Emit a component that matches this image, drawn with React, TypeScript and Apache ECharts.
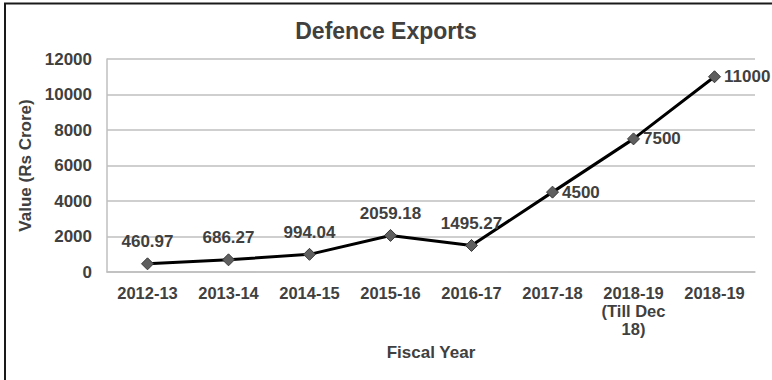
import React, { useEffect, useRef } from "react";
import * as echarts from "echarts";

const categories = [
  "2012-13",
  "2013-14",
  "2014-15",
  "2015-16",
  "2016-17",
  "2017-18",
  "2018-19\n(Till Dec\n18)",
  "2018-19",
];
const values = [460.97, 686.27, 994.04, 2059.18, 1495.27, 4500, 7500, 11000];
const labelPositions = ["top", "top", "top", "top", "top", "right", "right", "right"];
const titleText = "Defence Exports";
const xName = "Fiscal Year";
const yName = "Value (Rs Crore)";

const FONT = "'Liberation Sans', Arial, sans-serif";
const TEXT = "#404040";

export default function App() {
  const ref = useRef<HTMLDivElement>(null);
  useEffect(() => {
    if (!ref.current) return;
    const chart = echarts.init(ref.current, null, { renderer: "svg" });
    chart.setOption({
      animation: false,
      backgroundColor: "#ffffff",
      textStyle: { fontFamily: FONT },
      title: {
        text: titleText,
        left: "center",
        top: 14,
        textStyle: { fontFamily: FONT, fontSize: 23, fontWeight: "bold", color: TEXT },
      },
      graphic: [
        {
          type: "rect",
          shape: { x: 5, y: 3.5, width: 900, height: 500 },
          style: { fill: "none", stroke: "#1a1a1a", lineWidth: 2 },
          silent: true,
        },
      ],
      grid: { left: 107, right: 17, top: 59, bottom: 108, containLabel: false },
      xAxis: {
        type: "category",
        data: categories,
        boundaryGap: true,
        name: xName,
        nameLocation: "middle",
        nameGap: 72,
        nameTextStyle: { fontFamily: FONT, fontSize: 17, fontWeight: "bold", color: TEXT },
        axisLine: { lineStyle: { color: "#bfbfbf", width: 1.5 } },
        axisTick: { show: false },
        axisLabel: {
          interval: 0,
          margin: 12,
          fontFamily: FONT,
          fontSize: 16.5,
          fontWeight: "bold",
          color: TEXT,
          lineHeight: 18,
        },
      },
      yAxis: {
        type: "value",
        min: 0,
        max: 12000,
        interval: 2000,
        name: yName,
        nameLocation: "middle",
        nameGap: 72,
        nameTextStyle: { fontFamily: FONT, fontSize: 17, fontWeight: "bold", color: TEXT },
        axisLine: { show: true, lineStyle: { color: "#bfbfbf", width: 1.5 } },
        axisTick: { show: false },
        splitLine: { lineStyle: { color: "#bfbfbf", width: 1.5 } },
        axisLabel: {
          margin: 15,
          fontFamily: FONT,
          fontSize: 17,
          fontWeight: "bold",
          color: TEXT,
          formatter: (v: number) => String(v),
        },
      },
      series: [
        {
          type: "line",
          data: values.map((v, i) => ({
            value: v,
            label: {
              position: labelPositions[i],
              distance: labelPositions[i] === "top" ? 7 : 3,
            },
          })),
          symbol: "diamond",
          symbolSize: 12,
          lineStyle: { color: "#000000", width: 3 },
          itemStyle: { color: "#5f5f5f", borderColor: "#3a3a3a", borderWidth: 1 },
          label: {
            show: true,
            fontFamily: FONT,
            fontSize: 17,
            fontWeight: "bold",
            color: TEXT,
            formatter: (p: any) => String(p.value),
          },
        },
      ],
    });
    return () => chart.dispose();
  }, []);
  return (
    <div
      ref={ref}
      style={{ position: "fixed", left: 0, top: 0, width: 772, height: 380, background: "#fff" }}
    />
  );
}
